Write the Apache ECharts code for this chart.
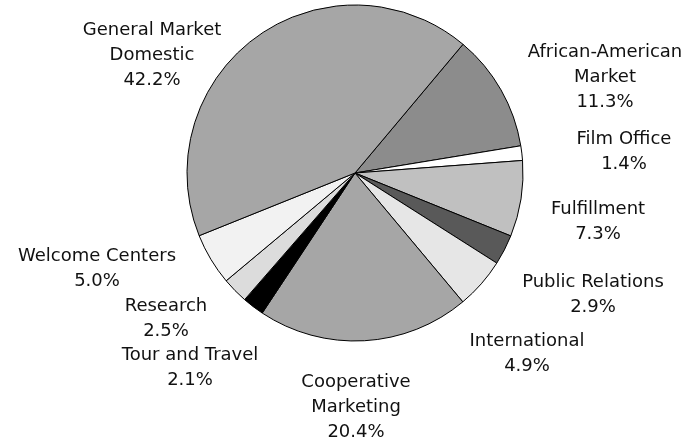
<!DOCTYPE html>
<html>
<head>
<meta charset="utf-8">
<script src="https://cdn.jsdelivr.net/npm/echarts@6/dist/echarts.min.js"></script>
<style>
  html, body { margin: 0; padding: 0; background: #fff; }
  #chart { width: 697px; height: 442px; }
</style>
</head>
<body>
<div id="chart"></div>
<script>
// slices, clockwise from the top-right boundary
const names = [
    'African-American\nMarket', 'Film Office', 'Fulfillment', 'Public Relations',
    'International', 'Cooperative\nMarketing', 'Tour and Travel', 'Research',
    'Welcome Centers', 'General Market\nDomestic'
];
const shares = [11.3, 1.4, 7.3, 2.9, 4.9, 20.4, 2.1, 2.5, 5.0, 42.2];

// fills and where each label block is centred (px)
const fills = ['#8c8c8c', '#ffffff', '#c0c0c0', '#595959', '#e6e6e6',
               '#a6a6a6', '#000000', '#dcdcdc', '#f2f2f2', '#a6a6a6'];
const labelSpots = [
    [605, 77], [624, 152], [598, 222], [593, 295], [527, 354],
    [356, 407], [190, 368], [166, 319], [97, 269], [152, 55]
];

const chart = echarts.init(document.getElementById('chart'), null, { renderer: 'canvas' });

chart.setOption({
    animation: false,
    backgroundColor: '#fff',
    series: [{
        type: 'pie',
        center: [355, 173],
        radius: 168,
        startAngle: 50,
        clockwise: true,
        avoidLabelOverlap: false,
        data: names.map((n, i) => ({
            name: n,
            value: shares[i],
            itemStyle: { color: fills[i] }
        })),
        itemStyle: { borderColor: '#000', borderWidth: 1 },
        label: {
            show: true,
            position: 'outside',
            formatter: p => p.name + '\n' + p.value.toFixed(1) + '%',
            fontFamily: 'DejaVu Sans',
            fontSize: 18,
            lineHeight: 25,
            color: '#111'
        },
        labelLine: { show: false },
        labelLayout: p => ({
            x: labelSpots[p.dataIndex][0],
            y: labelSpots[p.dataIndex][1],
            align: 'center',
            verticalAlign: 'middle'
        }),
        emphasis: { disabled: true }
    }]
});
</script>
</body>
</html>
